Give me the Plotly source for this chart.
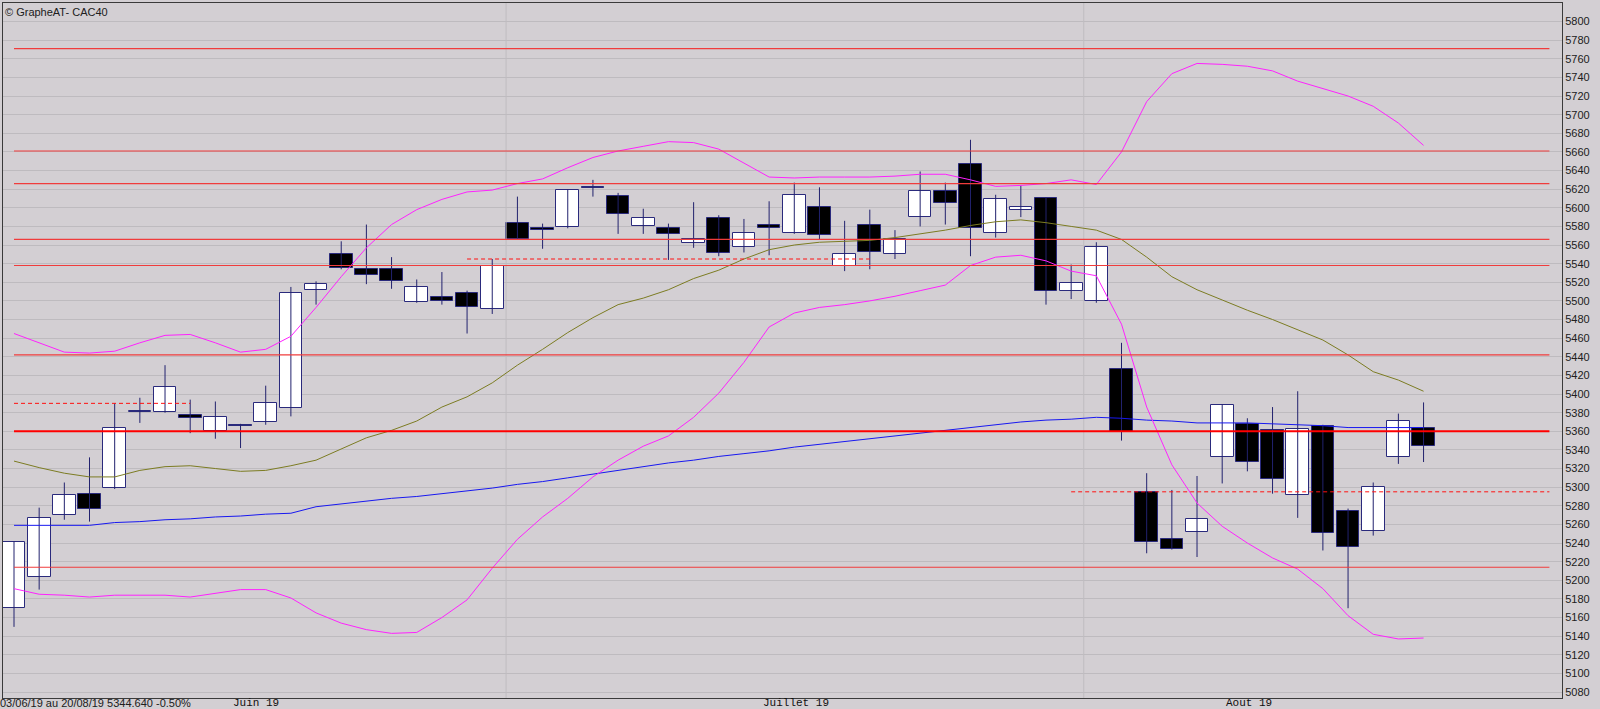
import plotly.graph_objects as go

# ---------------- data ----------------
dates = ["03/06","04/06","05/06","06/06","07/06","10/06","11/06","12/06","13/06","14/06",
         "17/06","18/06","19/06","20/06","21/06","24/06","25/06","26/06","27/06","28/06",
         "01/07","02/07","03/07","04/07","05/07","08/07","09/07","10/07","11/07","12/07",
         "15/07","16/07","17/07","18/07","19/07","22/07","23/07","24/07","25/07","26/07",
         "29/07","30/07","31/07","01/08","02/08","05/08","06/08","07/08","08/08","09/08",
         "12/08","13/08","14/08","15/08","16/08","19/08","20/08"]

opens = [5170,5203,5270,5293,5299,5381,5381,5378,5360,5367,5370,5385,5512,5550,5534,5534,5499,5504,5508,5491,
         5584,5578,5579,5622,5613,5580,5578,5562,5589,5558,5581,5573,5601,5538,5581,5550,5590,5618,5647,5573,
         5598,5610,5511,5500,5427,5295,5244,5252,5332,5368,5361,5292,5366,5274,5253,5332,5363]
closes = [5241,5267,5292,5277,5363,5382,5408,5374,5375,5366,5390,5509,5518,5535,5528,5521,5515,5500,5493,5538,
          5567,5576,5619,5621,5593,5589,5572,5567,5551,5573,5578,5614,5571,5550,5552,5566,5618,5605,5578,5609,
          5601,5511,5519,5558,5359,5241,5234,5266,5388,5327,5309,5362,5251,5236,5300,5371,5344.64]
highs = [5242,5278,5305,5332,5390,5396,5431,5394,5392,5368,5409,5515,5521,5564,5582,5547,5523,5531,5511,5545,
         5612,5583,5620,5630,5616,5599,5583,5606,5592,5588,5607,5627,5622,5586,5598,5576,5639,5627,5673,5614,
         5624,5611,5539,5563,5455,5315,5297,5312,5389,5374,5386,5403,5367,5277,5305,5379,5391]
lows = [5150,5190,5265,5263,5298,5369,5380,5358,5352,5342,5367,5376,5496,5534,5518,5513,5498,5496,5465,5486,
        5566,5556,5578,5612,5572,5572,5544,5557,5548,5552,5549,5572,5566,5532,5534,5545,5580,5582,5548,5568,
        5590,5496,5502,5498,5350,5229,5233,5225,5304,5317,5293,5267,5232,5170,5248,5325,5327]

boll_upper = [5465,5455,5445,5444,5446,5455,5463,5464,5455,5445,5448,5462,5493,5526,5557,5582,5598,5609,5617,5619,
              5626,5631,5643,5654,5661,5666,5671,5670,5663,5648,5633,5632,5633,5633,5633,5634,5636,5636,5630,5623,
              5624,5626,5630,5625,5660,5714,5744,5755,5754,5752,5747,5736,5728,5720,5709,5691,5667]
boll_lower = [5191,5185,5184,5182,5184,5184,5184,5182,5186,5190,5190,5181,5165,5154,5147,5143,5144,5160,5179,5213,
              5244,5268,5288,5311,5329,5344,5355,5375,5401,5434,5472,5487,5493,5496,5500,5505,5511,5517,5538,5547,
              5549,5543,5532,5527,5475,5386,5324,5283,5258,5240,5224,5212,5191,5162,5142,5137,5138]
ma_short = [5328,5321,5315,5311,5311,5318,5322,5323,5320,5317,5318,5323,5329,5341,5353,5361,5371,5386,5397,5412,
            5431,5448,5466,5482,5496,5503,5512,5524,5533,5545,5555,5560,5563,5564,5565,5568,5572,5576,5581,5585,
            5587,5584,5580,5576,5566,5547,5526,5512,5501,5490,5480,5469,5458,5442,5424,5415,5403]
ma_long = [5259,5259,5259,5259,5262,5263,5265,5266,5268,5269,5271,5272,5279,5282,5285,5288,5290,5293,5296,5299,
           5303,5306,5310,5314,5318,5322,5326,5329,5333,5336,5339,5343,5346,5349,5352,5355,5358,5361,5364,5367,
           5370,5372,5373,5375,5374,5372,5371,5369,5369,5369,5368,5367,5366,5364,5364,5364,5364]

solid_levels = [5771, 5661, 5626, 5566, 5538, 5442, 5214]
major_level = 5360
dashed_levels = [5390, 5545, 5295]
dashed_start = [0, 18, 42]
dashed_end = [7, 34, 61]
level_end = 61

month_labels = ["Juin 19", "Juillet 19", "Aout 19"]
month_label_pos = [9.6, 31.07, 49.05]
month_bounds = [19.55, 42.5]

title_text = "© GrapheAT- CAC40"
info_text = "03/06/19 au 20/08/19 5344.640 -0.50%"

# ---------------- figure ----------------
n = len(dates)
assert all(len(a) == n for a in [opens, closes, highs, lows, boll_upper, boll_lower, ma_short, ma_long])
idx = list(range(n))

BG = "#D3CFD3"
fig = go.Figure()

# month boundary faint verticals
for b in month_bounds:
    fig.add_trace(go.Scatter(x=[b, b], y=[5060, 5830], mode="lines",
                             line=dict(color="#BFBCC0", width=1), hoverinfo="skip", showlegend=False))

# wicks
wx, wy = [], []
for i in idx:
    wx += [i, i, None]
    wy += [lows[i], highs[i], None]
fig.add_trace(go.Scatter(x=wx, y=wy, mode="lines", line=dict(color="#22226E", width=1),
                         hoverinfo="skip", showlegend=False))

# bodies
base = [min(o, c) for o, c in zip(opens, closes)]
height = [max(abs(c - o), 0.9) for o, c in zip(opens, closes)]
colors = ["#FFFFFF" if c >= o else "#000000" for o, c in zip(opens, closes)]
fig.add_trace(go.Bar(x=idx, y=height, base=base, width=0.9,
                     marker=dict(color=colors, line=dict(color="#2A2A7C", width=1)),
                     hoverinfo="skip", showlegend=False))

# indicator lines
fig.add_trace(go.Scatter(x=idx, y=ma_long, mode="lines", line=dict(color="#1818F0", width=1),
                         hoverinfo="skip", showlegend=False))
fig.add_trace(go.Scatter(x=idx, y=ma_short, mode="lines", line=dict(color="#7C7C22", width=1),
                         hoverinfo="skip", showlegend=False))
fig.add_trace(go.Scatter(x=idx, y=boll_upper, mode="lines", line=dict(color="#FF22FF", width=1),
                         hoverinfo="skip", showlegend=False))
fig.add_trace(go.Scatter(x=idx, y=boll_lower, mode="lines", line=dict(color="#FF22FF", width=1),
                         hoverinfo="skip", showlegend=False))

# red horizontal levels
for lv in solid_levels:
    fig.add_trace(go.Scatter(x=[0, level_end], y=[lv, lv], mode="lines",
                             line=dict(color="#F03C3C", width=1.2), hoverinfo="skip", showlegend=False))
fig.add_trace(go.Scatter(x=[0, level_end], y=[major_level, major_level], mode="lines",
                         line=dict(color="#FF0000", width=2), hoverinfo="skip", showlegend=False))
for lv, s, e in zip(dashed_levels, dashed_start, dashed_end):
    fig.add_trace(go.Scatter(x=[s, e], y=[lv, lv], mode="lines",
                             line=dict(color="#FF1010", width=1, dash="4px,3px"),
                             hoverinfo="skip", showlegend=False))

# text
ann = [dict(text=title_text, x=0.0, y=0.9866, xref="paper", yref="paper", xanchor="left",
            yanchor="middle", showarrow=False,
            font=dict(family="Liberation Sans, Arial", size=11, color="#202020")),
       dict(text=info_text, x=-0.003, y=-0.0075, xref="paper", yref="paper", xanchor="left",
            yanchor="middle", showarrow=False,
            font=dict(family="Liberation Sans, Arial", size=11, color="#202020"))]
for lab, pos in zip(month_labels, month_label_pos):
    ann.append(dict(text=lab, x=pos, y=-0.0075, xref="x", yref="paper", xanchor="center",
                    yanchor="middle", showarrow=False,
                    font=dict(family="Liberation Mono, Courier New, monospace", size=11, color="#101010")))

fig.update_layout(
    width=1600, height=709,
    margin=dict(l=3, r=38, t=3, b=11, pad=0),
    paper_bgcolor=BG, plot_bgcolor=BG,
    showlegend=False, hovermode=False, bargap=0,
    annotations=ann,
    xaxis=dict(range=[-0.437, 61.5], showgrid=False, zeroline=False, showticklabels=False,
               showline=True, mirror=True, linecolor="#3A3A3A", linewidth=1, fixedrange=True),
    yaxis=dict(range=[5073.6, 5819.9], side="right", tick0=5080, dtick=20,
               showgrid=True, gridcolor="#BEBBBF", gridwidth=1, zeroline=False,
               showline=True, mirror=True, linecolor="#3A3A3A", linewidth=1, ticks="",
               tickfont=dict(family="Liberation Sans, Arial", size=11, color="#202020"),
               fixedrange=True),
)

fig.write_html("out.html", config={"displayModeBar": False},
               post_script="document.body.style.margin='0';document.body.style.background='" + BG + "';")
